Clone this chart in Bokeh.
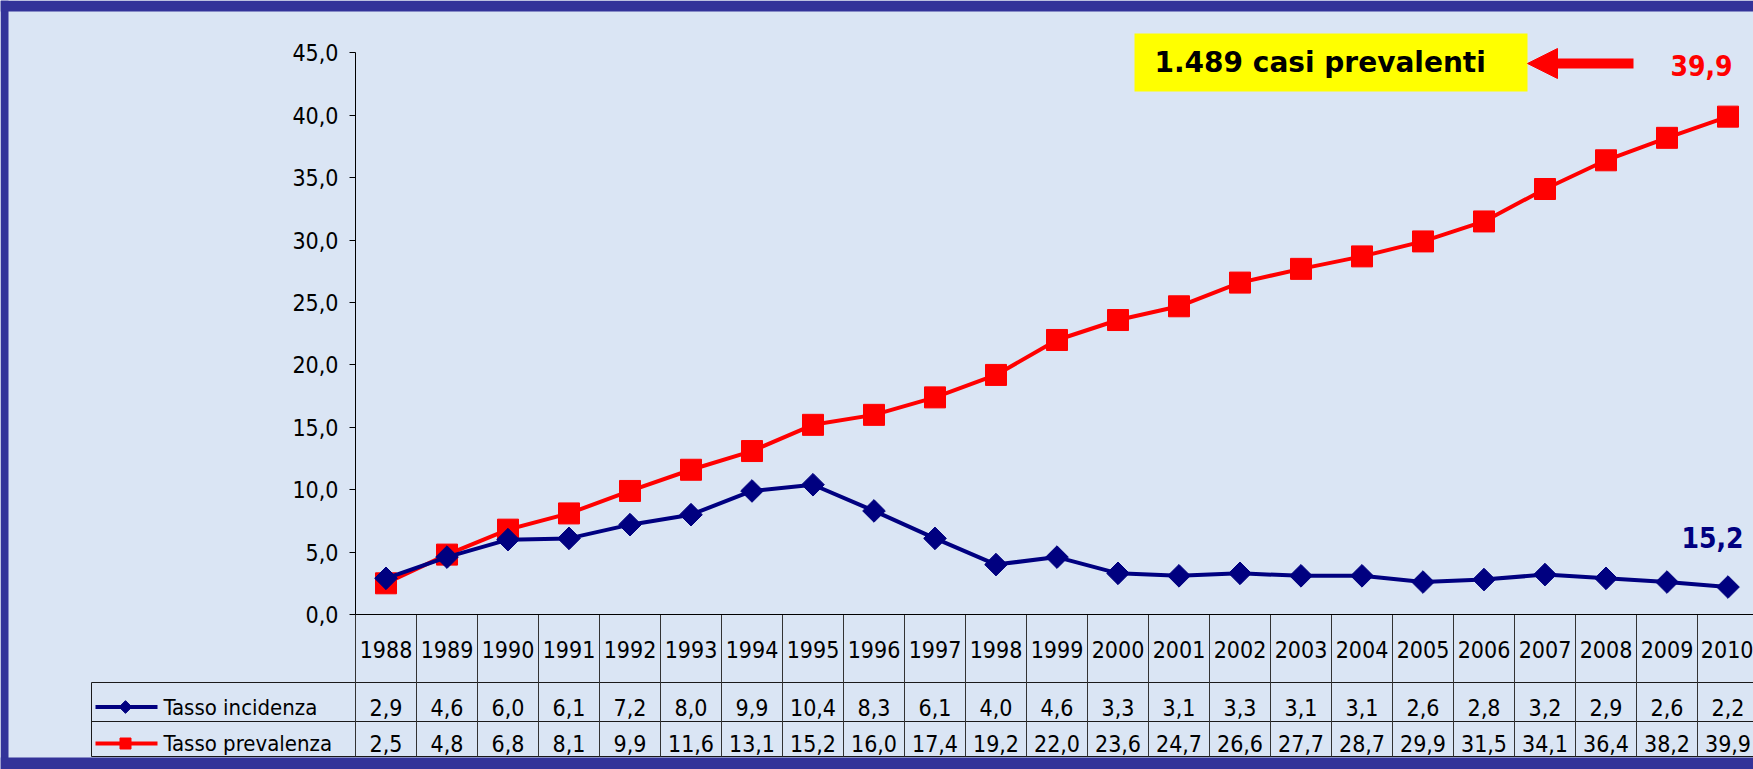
from bokeh.plotting import figure
from bokeh.models import Range1d, LinearAxis, FixedTicker, Arrow, NormalHead
from bokeh.core.properties import value
from bokeh.embed import file_html
from bokeh.resources import INLINE
import math

# ---------------- data ----------------
years = [1988, 1989, 1990, 1991, 1992, 1993, 1994, 1995, 1996, 1997, 1998, 1999,
         2000, 2001, 2002, 2003, 2004, 2005, 2006, 2007, 2008, 2009, 2010]
incidenza = [2.9, 4.6, 6.0, 6.1, 7.2, 8.0, 9.9, 10.4, 8.3, 6.1, 4.0, 4.6,
             3.3, 3.1, 3.3, 3.1, 3.1, 2.6, 2.8, 3.2, 2.9, 2.6, 2.2]
prevalenza = [2.5, 4.8, 6.8, 8.1, 9.9, 11.6, 13.1, 15.2, 16.0, 17.4, 19.2, 22.0,
              23.6, 24.7, 26.6, 27.7, 28.7, 29.9, 31.5, 34.1, 36.4, 38.2, 39.9]
y_ticks = [0, 5, 10, 15, 20, 25, 30, 35, 40, 45]
series_names = ["Tasso incidenza", "Tasso prevalenza"]
box_text = "1.489 casi prevalenti"
label_inc = "15,2"


def fmt(v):
    return f"{v:.1f}".replace(".", ",")


# ---------------- layout (pixels) ----------------
W, H = 1753, 769
AX_X = 355          # y-axis position px
COL = 61            # column width px
Y0 = 614            # y=0 px
PPU = 12.478        # px per unit
x_start = -0.5 - AX_X / COL
x_end = x_start + W / COL
y_end = Y0 / PPU
y_start = -(H - Y0) / PPU


def xd(px):
    return x_start + px / COL


def yd(py):
    return (Y0 - py) / PPU


BG = "#dae5f4"
FRAME = "#333399"
NAVY = "#000080"
RED = "#ff0000"
NUM_FONT = "DejaVu Sans Condensed"

p = figure(width=W, height=H, x_range=Range1d(x_start, x_end), y_range=Range1d(y_start, y_end),
           output_backend="svg", toolbar_location=None, min_border=0,
           x_axis_type=None, y_axis_type=None)
p.background_fill_color = BG
p.border_fill_color = BG
p.outline_line_color = None

# frame bands (slide border)
p.quad(left=[x_start], right=[xd(8)], bottom=[y_start], top=[y_end], color=FRAME, line_color=None)
p.quad(left=[x_start], right=[x_end], bottom=[yd(11)], top=[y_end], color=FRAME, line_color=None)
p.quad(left=[x_start], right=[x_end], bottom=[y_start], top=[yd(757)], color=FRAME, line_color=None)

xs = list(range(len(years)))
n = len(years)

# ---------------- axes ----------------
yaxis = LinearAxis(fixed_location=-0.5, bounds=(0, 45), ticker=FixedTicker(ticks=y_ticks))
yaxis.major_label_overrides = {t: fmt(t) for t in y_ticks}
yaxis.major_tick_out = 6
yaxis.major_tick_in = 0
yaxis.minor_tick_out = 0
yaxis.minor_tick_in = 0
yaxis.major_label_standoff = 11
yaxis.major_label_text_font = NUM_FONT
yaxis.major_label_text_font_size = "23px"
yaxis.major_label_text_color = "black"
yaxis.axis_line_color = "black"
yaxis.major_tick_line_color = "black"
p.add_layout(yaxis, "left")

xaxis = LinearAxis(fixed_location=0, bounds=(-0.5, n - 0.5), ticker=FixedTicker(ticks=xs))
xaxis.major_label_overrides = {i: str(y) for i, y in zip(xs, years)}
xaxis.major_tick_out = 0
xaxis.major_tick_in = 0
xaxis.minor_tick_out = 0
xaxis.minor_tick_in = 0
xaxis.major_label_standoff = 26
xaxis.major_label_text_font = NUM_FONT
xaxis.major_label_text_font_size = "23px"
xaxis.major_label_text_color = "black"
xaxis.axis_line_color = "black"
p.add_layout(xaxis, "below")

# ---------------- table grid ----------------
row_lines = [yd(682), yd(721), yd(756)]
leg_left = xd(91)
p.segment(x0=[leg_left] * 3, x1=[n - 0.5] * 3, y0=row_lines, y1=row_lines,
          line_color="#1a1a1a", line_width=1)
vx = [k - 0.5 for k in range(n + 1)]
p.segment(x0=vx, x1=vx, y0=[0] * len(vx), y1=[row_lines[-1]] * len(vx),
          line_color="#333333", line_width=1)
p.segment(x0=[leg_left], x1=[leg_left], y0=[row_lines[0]], y1=[row_lines[-1]],
          line_color="#1a1a1a", line_width=1)

# table values
y_inc_row = yd(706.5)
y_prev_row = yd(743)
p.text(x=xs, y=[y_inc_row] * n, text=[fmt(v) for v in incidenza], text_font=value(NUM_FONT),
       text_font_size="23px", text_align="center", text_baseline="middle", text_color="black")
p.text(x=xs, y=[y_prev_row] * n, text=[fmt(v) for v in prevalenza], text_font=value(NUM_FONT),
       text_font_size="23px", text_align="center", text_baseline="middle", text_color="black")

# legend keys
lx0, lx1, lxm = xd(95), xd(157), xd(125)
p.line(x=[lx0, lx1], y=[y_inc_row, y_inc_row], line_color=NAVY, line_width=4)
p.scatter(x=[lxm], y=[y_inc_row], marker="square", angle=math.pi / 4, size=9,
          fill_color=NAVY, line_color=NAVY)
p.line(x=[lx0, lx1], y=[y_prev_row, y_prev_row], line_color=RED, line_width=4)
p.scatter(x=[lxm], y=[y_prev_row], marker="square", size=11, fill_color=RED, line_color=RED)
p.text(x=[xd(163)] * 2, y=[y_inc_row, y_prev_row], text=series_names, text_font=value(NUM_FONT),
       text_font_size="22px", text_align="left", text_baseline="middle", text_color="black")

# ---------------- series ----------------
p.line(x=xs, y=prevalenza, line_color=RED, line_width=4)
p.scatter(x=xs, y=prevalenza, marker="square", size=21, fill_color=RED, line_color=RED)
p.line(x=xs, y=incidenza, line_color=NAVY, line_width=4)
p.scatter(x=xs, y=incidenza, marker="square", angle=math.pi / 4, size=16,
          fill_color=NAVY, line_color=NAVY)

# ---------------- annotations ----------------
p.quad(left=[xd(1134)], right=[xd(1527)], bottom=[yd(91)], top=[yd(33)], color="#ffff00",
       line_color=None)
p.text(x=[xd(1154)], y=[yd(61.7)], text=[box_text], text_font=value("DejaVu Sans"),
       text_font_style="bold", text_font_size="28px", text_align="left",
       text_baseline="middle", text_color="black")
p.add_layout(Arrow(x_start=xd(1633), y_start=yd(63), x_end=xd(1527), y_end=yd(63),
                   line_color=RED, line_width=10,
                   end=NormalHead(size=30, fill_color=RED, line_color=RED, line_width=1)))
p.text(x=[xd(1701)], y=[yd(65)], text=[fmt(prevalenza[-1])], text_font=value(NUM_FONT),
       text_font_style="bold", text_font_size="28px", text_align="center",
       text_baseline="middle", text_color=RED)
p.text(x=[xd(1712)], y=[yd(537)], text=[label_inc], text_font=value(NUM_FONT),
       text_font_style="bold", text_font_size="28px", text_align="center",
       text_baseline="middle", text_color=NAVY)

html = file_html(p, INLINE)
open("out.html", "w").write(html)
